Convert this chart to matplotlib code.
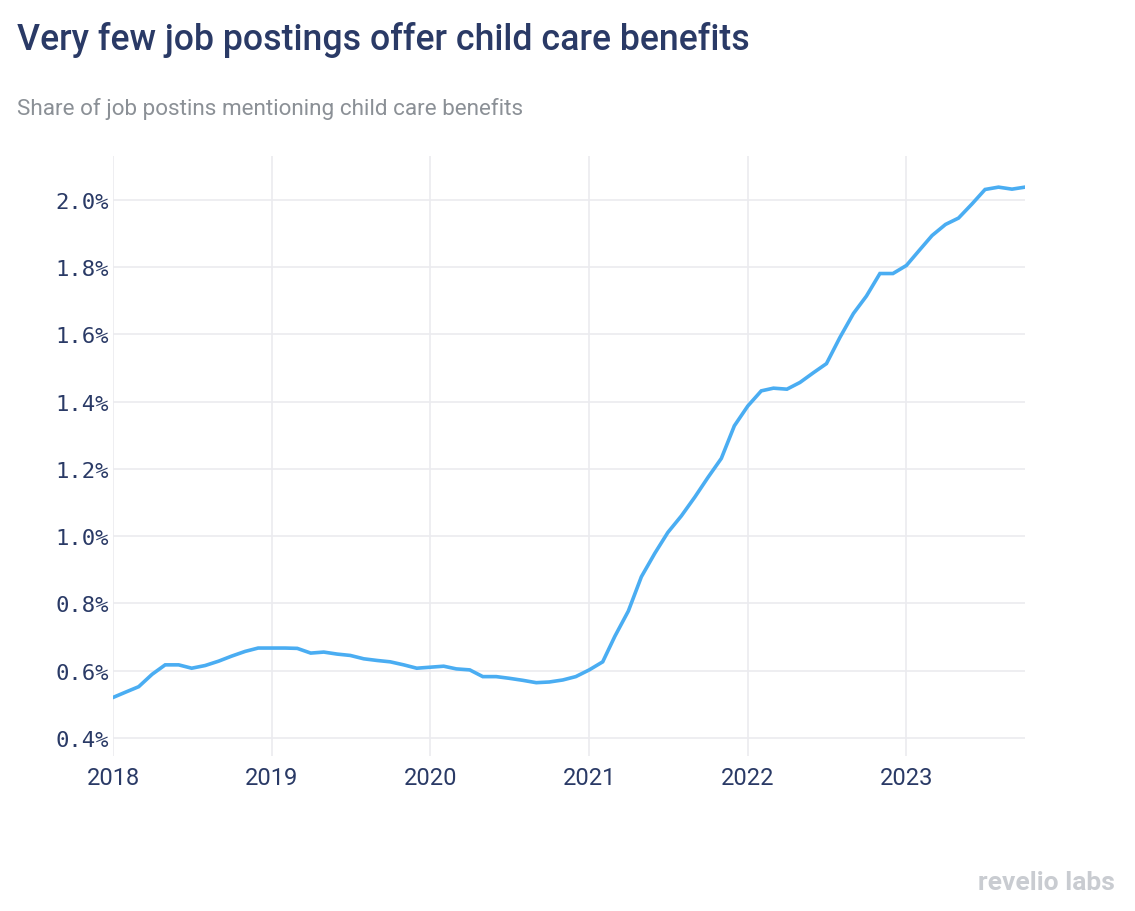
import matplotlib.pyplot as plt
import matplotlib.dates as mdates
import matplotlib.ticker as mticker
import numpy as np
import pandas as pd

# monthly share of postings mentioning child care benefits (%)
months = pd.date_range("2018-01-01", "2023-10-01", freq="MS")
share = [
    0.520, 0.537, 0.552, 0.589, 0.617, 0.617, 0.607, 0.615, 0.628, 0.643, 0.657, 0.667,  # 2018
    0.667, 0.667, 0.666, 0.652, 0.655, 0.649, 0.645, 0.635, 0.630, 0.626, 0.617, 0.607,  # 2019
    0.610, 0.613, 0.605, 0.602, 0.582, 0.582, 0.577, 0.571, 0.564, 0.566, 0.572, 0.582,  # 2020
    0.602, 0.626, 0.702, 0.777, 0.879, 0.949, 1.011, 1.060, 1.116, 1.174, 1.231, 1.328,  # 2021
    1.387, 1.432, 1.440, 1.437, 1.457, 1.486, 1.513, 1.591, 1.662, 1.714, 1.781, 1.781,  # 2022
    1.805, 1.852, 1.894, 1.927, 1.946, 1.988, 2.031, 2.038, 2.032, 2.038,                # 2023
]
yticks = [0.4, 0.6, 0.8, 1.0, 1.2, 1.4, 1.6, 1.8, 2.0]
title = "Very few job postings offer child care benefits"
subtitle = "Share of job postins mentioning child care benefits"

navy = "#2a3a66"
fig = plt.figure(figsize=(11.35, 9.12), dpi=100)
ax = fig.add_axes([0.0996, 0.170, 0.8035, 0.658])

ax.plot(months, share, color="#4aadf2", lw=2.6, solid_joinstyle="miter", zorder=3)

ax.set_xlim(months[0], months[-1])
ax.set_ylim(0.346, 2.131)
ax.set_yticks(yticks)
ax.yaxis.set_major_formatter(mticker.FuncFormatter(lambda v, p: f"{v:.1f}%"))
ax.xaxis.set_major_locator(mdates.YearLocator())
ax.xaxis.set_major_formatter(mdates.DateFormatter("%Y"))

ax.grid(True, color="#ebebef", lw=1.2, zorder=0)
for s in ax.spines.values():
    s.set_visible(False)
ax.tick_params(axis="both", length=0)
ax.tick_params(axis="y", pad=3, labelcolor=navy)
ax.tick_params(axis="x", pad=7, labelcolor=navy)
for lab in ax.get_yticklabels():
    lab.set_fontfamily("DejaVu Sans Mono")
    lab.set_fontsize(16)
for lab in ax.get_xticklabels():
    lab.set_fontfamily("Roboto")
    lab.set_fontsize(17)

fig.text(0.015, 0.956, title, fontsize=25.7, fontweight="medium", family="Roboto",
         color=navy, va="center", ha="left")
fig.text(0.015, 0.880, subtitle, fontsize=16.2, family="Roboto",
         color="#8b9096", va="center", ha="left")
fig.text(0.982, 0.032, "revelio labs", fontsize=19, fontweight="bold", family="Roboto",
         color="#c9ccd1", va="center", ha="right")

fig.savefig("out.png", dpi=100)
